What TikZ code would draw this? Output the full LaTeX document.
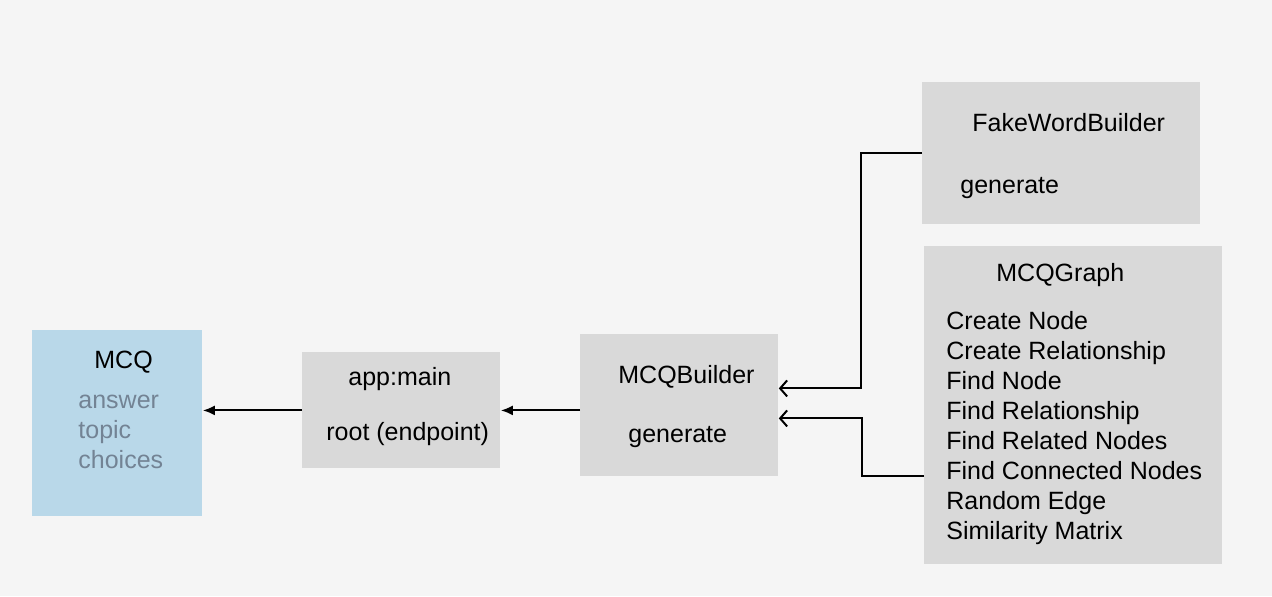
\documentclass[tikz,border=0pt]{standalone}
\usepackage{fontspec}
\setmainfont{Liberation Sans}
\usetikzlibrary{arrows.meta}
\definecolor{bgcol}{HTML}{F5F5F5}
\definecolor{boxgray}{HTML}{D9D9D9}
\definecolor{mcqblue}{HTML}{B9D8E9}
\definecolor{fieldcol}{HTML}{738394}
\begin{document}
\begin{tikzpicture}[x=0.5pt,y=-0.5pt,
box/.style={rectangle,fill=boxgray,inner sep=0pt,anchor=north west},
title/.style={anchor=base west,inner sep=0pt,font=\fontsize{12.5}{15}\selectfont},
field/.style={title,text=fieldcol},
paths/.style={-{Latex[length=6pt,width=5pt]}, line width=1pt},
calls/.style={-{Straight Barb[length=3.5pt,width=8pt]}, line width=1pt}
]
\useasboundingbox[fill=bgcol] (0,0) rectangle (1272,596);

%create boxes
\node[box, fill=mcqblue, minimum width=85pt, minimum height=93pt] (mcq) at (32,330) {};
\node[box, minimum width=99pt, minimum height=58pt] (app) at (302,352) {};
\node[box, minimum width=99pt, minimum height=71pt] (builder) at (580,334) {};
\node[box, minimum width=139pt, minimum height=71pt] (fake) at (922,82) {};
\node[box, minimum width=149pt, minimum height=159pt] (graph) at (924,246) {};

%box texts
\node[title] (mcqname) at (94,368) {MCQ};
\node[field] (answer) at (78,408) {answer};
\node[field] (topic) at (78,438) {topic};
\node[field] (choices) at (78,468) {choices};

\node[title] (appname) at (348,385) {app:main};
\node[title] (root) at (326,440) {root (endpoint)};

\node[title] (buildername) at (618,383) {MCQBuilder};
\node[title] (buildergen) at (628,442) {generate};

\node[title] (fakename) at (972,131) {FakeWordBuilder};
\node[title] (fakegen) at (960,193) {generate};

\node[title] (graphname) at (996,281) {MCQGraph};
\foreach \op [count=\i from 0] in {Create Node,Create Relationship,Find Node,Find Relationship,Find Related Nodes,Find Connected Nodes,Random Edge,Similarity Matrix}
  \node[title] (op\i) at (946,329+30*\i) {\op};

%draw paths
\draw[paths] (app.west) -- (app.west -| mcq.east);
\draw[paths] ([yshift=-2.5pt]builder.west) -- ([yshift=-2.5pt]builder.west -| app.east);

\draw[calls] (fake.west) -- ++(-61,0) |- ([yshift=8.5pt]builder.east);
\draw[calls] ([yshift=-35.5pt]graph.west) -- ++(-62,0) |- ([yshift=-6.5pt]builder.east);

\end{tikzpicture}
\end{document}
